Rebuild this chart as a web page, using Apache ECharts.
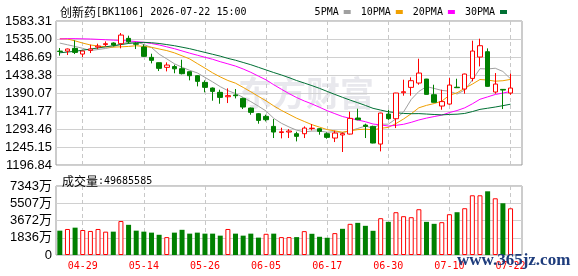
<!DOCTYPE html>
<html>
<head>
<meta charset="utf-8">
<script src="https://cdn.jsdelivr.net/npm/echarts@6/dist/echarts.min.js"></script>
<style>
html, body { margin: 0; padding: 0; background: #fff; }
#chart { width: 578px; height: 276px; }
</style>
</head>
<body>
<div id="chart"></div>
<script>
// trading days shown on the chart
const dates = ['04-24','04-27','04-28','04-29','04-30','05-06','05-07','05-08','05-11','05-12',
  '05-13','05-14','05-15','05-18','05-19','05-20','05-21','05-22','05-25','05-26',
  '05-27','05-28','05-29','06-01','06-02','06-03','06-04','06-05','06-08','06-09',
  '06-10','06-11','06-12','06-15','06-16','06-17','06-18','06-22','06-23','06-24',
  '06-25','06-26','06-29','06-30','07-01','07-02','07-03','07-06','07-07','07-08',
  '07-09','07-10','07-13','07-14','07-15','07-16','07-17','07-20','07-21','07-22']

const opens = [1502.5,1502.7,1509.9,1494.6,1504.5,1513.4,1520.0,1524.2,1522.4,1536.7,
  1522.5,1513.4,1485.7,1471.4,1458.9,1461.0,1455.3,1447.2,1436.5,1418.6,
  1403.4,1391.8,1380.0,1384.8,1375.6,1349.7,1334.5,1327.3,1300.5,1284.0,
  1285.3,1280.8,1280.8,1294.8,1294.2,1280.8,1269.2,1277.5,1279.9,1322.9,
  1304.0,1300.5,1253.1,1333.6,1321.0,1390.8,1405.2,1416.8,1427.5,1385.5,
  1355.1,1360.4,1405.6,1400.7,1429.3,1486.6,1500.9,1392.7,1399.8,1390.0]
const closes = [1501.5,1508.1,1499.1,1502.7,1508.0,1516.0,1522.4,1518.8,1545.6,1527.8,
  1521.0,1488.4,1477.7,1456.2,1465.1,1455.0,1441.9,1436.5,1421.3,1405.2,
  1394.4,1378.3,1383.0,1382.8,1352.4,1338.1,1316.6,1318.4,1285.3,1286.0,
  1288.0,1273.7,1296.0,1295.6,1287.1,1271.0,1282.6,1281.0,1322.0,1318.4,
  1300.5,1255.8,1336.3,1321.1,1390.0,1393.5,1423.1,1443.6,1386.4,1365.0,
  1367.0,1411.4,1404.3,1441.0,1502.7,1517.0,1407.9,1414.1,1398.0,1403.4]
const lows = [1490.2,1492.0,1494.6,1486.6,1497.3,1508.0,1515.2,1515.0,1509.9,1522.4,
  1508.0,1487.0,1469.6,1449.0,1448.1,1443.0,1440.0,1424.0,1407.9,1391.8,
  1369.4,1361.3,1363.1,1375.6,1347.0,1331.8,1307.7,1313.9,1269.2,1268.3,
  1269.2,1260.2,1269.2,1289.8,1278.1,1267.4,1258.4,1231.7,1279.0,1317.0,
  1269.2,1255.0,1233.4,1318.0,1296.0,1382.8,1382.8,1412.3,1386.0,1365.0,
  1345.2,1358.6,1403.4,1388.2,1421.3,1461.5,1407.0,1388.2,1347.0,1385.5]
const highs = [1510.7,1509.5,1531.3,1503.5,1519.7,1522.4,1528.6,1526.0,1551.0,1543.9,
  1526.0,1520.6,1495.5,1472.0,1472.3,1466.0,1479.4,1447.5,1438.0,1424.0,
  1405.0,1398.9,1402.5,1400.7,1377.4,1351.0,1336.3,1331.8,1320.2,1296.9,
  1293.3,1286.2,1300.5,1306.8,1296.0,1284.4,1288.9,1284.5,1339.9,1347.9,
  1307.7,1302.3,1337.0,1345.2,1390.5,1425.8,1432.0,1482.1,1428.0,1412.3,
  1398.9,1430.2,1428.4,1442.0,1530.4,1535.8,1509.9,1443.6,1400.5,1441.9]

const volumes = [25900000,27700000,29100000,26600000,25600000,27700000,24850000,24850000,36150000,32110000,
  25900000,24850000,23800000,21510000,19050000,23800000,26810000,22730000,23800000,22730000,
  22730000,20600000,27700000,22730000,20600000,22730000,18500000,22560000,22730000,19050000,
  19040000,19040000,25400000,22570000,19390000,18330000,23280000,27870000,33170000,34220000,
  31050000,25750000,39170000,35290000,45530000,41290000,40230000,48710000,35290000,33170000,
  34930000,43410000,45530000,49770000,63540000,63540000,67780000,60360000,55060000,49685585]

const ma5 = [1524.0,1519.5,1515.0,1510.0,1503.9,1506.8,1509.6,1513.6,1522.2,1526.1,
  1527.1,1520.3,1512.1,1494.2,1481.7,1468.5,1459.2,1450.9,1444.0,1432.0,
  1419.9,1407.1,1396.4,1388.7,1378.2,1366.9,1354.6,1341.7,1322.2,1308.9,
  1298.9,1290.3,1285.8,1287.8,1288.1,1284.7,1286.4,1283.5,1288.7,1295.0,
  1301.3,1295.9,1306.6,1306.4,1320.7,1339.3,1372.8,1394.3,1407.3,1402.3,
  1397.0,1395.0,1387.3,1398.0,1425.0,1455.3,1454.6,1456.5,1447.9,1428.1]
const ma10 = [1536.0,1535.0,1530.0,1524.0,1519.0,1516.0,1514.0,1513.0,1514.0,1515.0,
  1517.0,1515.0,1512.8,1508.2,1503.9,1497.8,1489.8,1481.5,1469.1,1456.8,
  1444.2,1433.2,1423.7,1416.4,1405.1,1393.4,1380.9,1369.1,1355.5,1343.5,
  1332.9,1322.4,1313.7,1305.1,1298.5,1291.8,1288.4,1284.9,1288.5,1291.8,
  1293.0,1291.2,1295.3,1297.8,1308.1,1320.3,1334.4,1350.4,1356.9,1361.8,
  1368.3,1383.9,1390.7,1402.7,1413.9,1426.3,1424.8,1421.8,1423.0,1426.6]
const ma20 = [1535.0,1536.0,1536.0,1535.5,1535.0,1534.0,1533.0,1532.0,1531.0,1530.0,
  1528.0,1526.0,1523.0,1519.0,1514.0,1509.0,1503.0,1497.0,1491.5,1485.9,
  1480.6,1474.1,1468.3,1462.3,1454.5,1445.6,1435.3,1425.3,1412.3,1400.2,
  1388.5,1377.8,1368.7,1360.7,1351.8,1342.6,1334.6,1327.0,1322.0,1317.7,
  1313.0,1306.8,1304.5,1301.4,1303.3,1306.1,1311.4,1317.7,1322.7,1326.8,
  1330.7,1337.6,1343.0,1350.2,1361.0,1373.3,1379.6,1386.1,1389.9,1394.2]
const ma30 = [1498.0,1500.0,1502.0,1505.0,1508.0,1511.0,1514.0,1517.0,1520.0,1523.0,
  1525.0,1526.0,1525.0,1523.0,1520.0,1517.0,1513.0,1509.0,1504.0,1499.0,
  1494.0,1489.0,1483.0,1478.0,1472.0,1466.0,1459.0,1452.0,1445.0,1438.5,
  1431.3,1423.5,1416.8,1409.9,1402.5,1394.3,1386.3,1378.5,1371.0,1364.0,
  1356.7,1348.9,1344.2,1339.7,1337.2,1335.2,1334.5,1334.8,1333.6,1332.4,
  1331.4,1332.5,1333.2,1335.2,1340.2,1346.1,1349.2,1352.4,1356.1,1360.0]

// axis ticks as printed on the picture
const priceTicks = ['1196.84','1245.15','1293.46','1341.77','1390.07','1438.38','1486.69','1535.00','1583.31']
const volTickValues = [0, 18357500, 36715000, 55072500, 73430000]
const volTickLabels = ['0', '1836万', '3672万', '5507万', '7343万']

const UP = '#ff0000'
const DOWN = '#008000'
const MONO = '"DejaVu Sans Mono", "Noto Sans CJK SC", monospace'
const SANS = '"Liberation Sans", Arial, "Noto Sans CJK SC", sans-serif'
const CJK = '"Noto Sans CJK SC", sans-serif'

const priceVals = priceTicks.map(Number)
const categories = dates.concat([''])   // one empty slot on the right edge
const onLabel = i => i % 8 === 3

const candles = dates.map((d, i) => [opens[i], closes[i], lows[i], highs[i]])

// volume colour follows close vs previous close
const volData = volumes.map((v, i) => {
  const prev = i > 0 ? closes[i - 1] : opens[i]
  const up = closes[i] >= prev
  return {
    value: v,
    itemStyle: up ? { color: '#fff', borderColor: UP, borderWidth: 1 } : { color: DOWN }
  }
})

const maLine = (name, data, color) => ({
  name,
  type: 'line',
  data,
  xAxisIndex: 0,
  yAxisIndex: 0,
  symbol: 'none',
  smooth: false,
  silent: true,
  z: 3,
  itemStyle: { color },
  lineStyle: { color, width: 1 }
})

const gridLine = { color: '#d0d0d0', width: 1 }
const dashLine = { color: '#c8c8c8', width: 1, type: [4, 3] }

const richText = {
  c: { fontSize: 12, fontFamily: CJK, color: '#000', fontWeight: 'normal' },
  m: { fontSize: 10, fontFamily: MONO, color: '#000', fontWeight: 'normal' }
}

const chart = echarts.init(document.getElementById('chart'))

chart.setOption({
  animation: false,
  backgroundColor: '#fff',
  title: [
    {
      text: '{c|创新药}{m|[BK1106] 2026-07-22 15:00}',
      left: 55, top: 1,
      textStyle: { fontWeight: 'normal', rich: richText }
    },
    {
      text: '{c|成交量}{m|:' + volumes[volumes.length - 1] + '}',
      left: 57, top: 170,
      textStyle: { fontWeight: 'normal', rich: richText }
    }
  ],
  legend: {
    data: ['5PMA', '10PMA', '20PMA', '30PMA'],
    right: 66,
    top: 2,
    align: 'right',
    icon: 'rect',
    itemWidth: 7,
    itemHeight: 4,
    itemGap: 10,
    textStyle: { fontSize: 10, fontFamily: MONO, color: '#000' }
  },
  graphic: [
    {
      type: 'text', left: 238, top: 76, z: 0, silent: true,
      style: { text: '东方财富', font: 'bold 34px "Noto Sans CJK SC"', fill: 'rgba(205,205,215,0.45)' }
    },
    {
      type: 'text', left: 457, top: 252, z: 100, silent: true,
      style: { text: 'www.365jz.com', font: 'bold 17px "Liberation Serif", serif', fill: '#1e3c7c' }
    }
  ],
  grid: [
    { left: 56, top: 21, width: 466, height: 144, show: true, borderColor: '#999', borderWidth: 1 },
    { left: 56, top: 186, width: 466, height: 69, show: true, borderColor: '#999', borderWidth: 1 }
  ],
  xAxis: [
    {
      type: 'category', gridIndex: 0, data: categories, boundaryGap: true,
      axisLine: { show: false }, axisTick: { show: false }, axisLabel: { show: false },
      splitLine: { show: true, interval: onLabel, alignWithLabel: true, lineStyle: dashLine }
    },
    {
      type: 'category', gridIndex: 1, data: categories, boundaryGap: true,
      axisLine: { show: false }, axisTick: { show: false },
      axisLabel: { interval: onLabel, color: UP, fontSize: 10, fontFamily: MONO, margin: 6 },
      splitLine: { show: true, interval: onLabel, alignWithLabel: true, lineStyle: dashLine }
    }
  ],
  yAxis: [
    {
      type: 'value', gridIndex: 0, min: priceVals[0], max: priceVals[priceVals.length - 1],
      axisLine: { show: false },
      axisTick: { show: false, customValues: priceVals },
      axisLabel: {
        customValues: priceVals, margin: 4, fontSize: 13, fontFamily: SANS, color: '#000',
        formatter: v => priceTicks[priceVals.findIndex(t => Math.abs(t - v) < 0.01)]
      },
      splitLine: { show: true, lineStyle: gridLine }
    },
    {
      type: 'value', gridIndex: 1, min: 0, max: volTickValues[volTickValues.length - 1],
      axisLine: { show: false },
      axisTick: { show: false, customValues: volTickValues },
      axisLabel: {
        customValues: volTickValues, margin: 4, fontSize: 13, fontFamily: SANS, color: '#000',
        formatter: v => volTickLabels[volTickValues.findIndex(t => Math.abs(t - v) < 1)]
      },
      splitLine: { show: true, lineStyle: gridLine }
    }
  ],
  series: [
    {
      name: 'K',
      type: 'candlestick',
      xAxisIndex: 0, yAxisIndex: 0,
      data: candles,
      barWidth: 5,
      z: 4,
      itemStyle: {
        color: '#fff', color0: DOWN,
        borderColor: UP, borderColor0: DOWN, borderWidth: 1
      }
    },
    maLine('5PMA', ma5, '#a0a0a0'),
    maLine('10PMA', ma10, '#f0a000'),
    maLine('20PMA', ma20, '#ff00ff'),
    maLine('30PMA', ma30, '#007034'),
    {
      name: 'VOL',
      type: 'bar',
      xAxisIndex: 1, yAxisIndex: 1,
      data: volData,
      barWidth: 5
    }
  ]
})
</script>
</body>
</html>
